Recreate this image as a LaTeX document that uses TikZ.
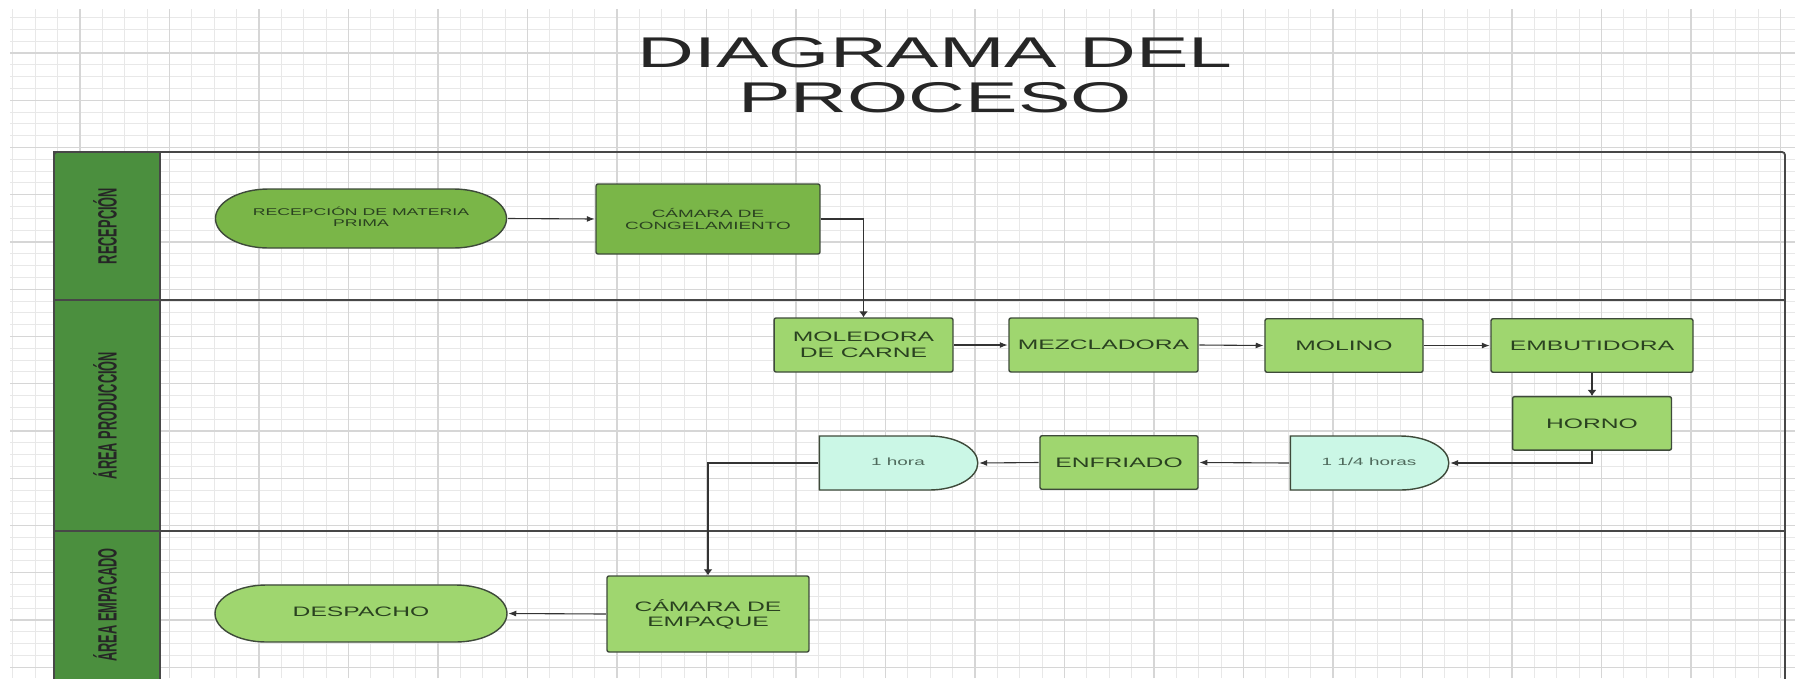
\documentclass[tikz,border=0pt]{standalone}
\usepackage{fontspec}
\setmainfont{Liberation Sans}
\usetikzlibrary{positioning,shapes.misc,arrows.meta}

\definecolor{lanegreen}{HTML}{4B8F3E}
\definecolor{midgreen}{HTML}{7AB648}
\definecolor{lightgreen}{HTML}{9FD66F}
\definecolor{mint}{HTML}{CBF7E6}
\definecolor{edgegray}{HTML}{3E4A3A}
\definecolor{textgreen}{HTML}{2A4220}
\definecolor{delaytext}{HTML}{4F6A5C}

\newcommand{\boxtext}[1]{\makebox[0pt]{\begin{tabular}{@{}c@{}}#1\end{tabular}}}

\begin{document}
\begin{tikzpicture}[
  x=1pt, y=-1pt,
  gridminor/.style={draw=black!9, line width=1pt},
  gridmajor/.style={draw=black!16, line width=1.2pt},
  lane/.style={draw=black!72, line width=1.8pt},
  lanelabel/.style={xscale=1.8, yscale=0.87, rotate=90, font=\fontsize{14.7}{16}\selectfont\bfseries, text=black!85},
  title/.style={xscale=1.83, align=center, font=\fontsize{43}{45}\selectfont, text=black!85},
  stage/.style={draw=edgegray, line width=1.4pt, fill=lightgreen, rounded corners=2pt, xscale=1.8, inner sep=0pt,
    minimum height=53.5pt, align=center, text=textgreen, font=\fontsize{13.7}{16.5}\selectfont},
  term/.style={rounded rectangle, draw=edgegray, line width=1.4pt, xscale=1.8, inner sep=0pt, text=textgreen},
  delay/.style={rounded rectangle, rounded rectangle west arc=none, draw=edgegray, line width=1.4pt, fill=mint,
    xscale=1.8, inner sep=0pt, minimum width=88pt, minimum height=54pt, text=delaytext, font=\fontsize{10.5}{12}\selectfont},
  flow/.style={draw=black!80, line width=1.1pt, -{Latex[length=8pt,width=6pt]}},
  vflow/.style={draw=black!80, line width=1.1pt, -{Latex[length=6pt,width=9pt]}}
]
\useasboundingbox (0,0) rectangle (1795,678);
\clip (0,0) rectangle (1795,678);
\fill[white] (0,0) rectangle (1795,678);

% Background grid
\begin{scope}[shift={(80,53)}]
  \draw[gridminor, xstep=22.375pt, ystep=11.8125pt] (-70,625) grid (1715,-44);
  \draw[gridmajor, xstep=89.5pt, ystep=47.25pt] (-70,625) grid (1715,-44);
\end{scope}

% Swimlanes
\draw[lane, fill=lanegreen] (54,152) rectangle (160,700);
\draw[lane, rounded corners=3pt] (54,152) rectangle (1785,700);
\draw[lane] (54,300) -- (1785,300);
\draw[lane] (54,531) -- (1785,531);

\node[lanelabel] (lrec) at (105,226) {RECEPCIÓN};
\node[lanelabel] (lprod) at (105,415.5) {ÁREA PRODUCCIÓN};
\node[lanelabel] (lemp) at (105,605) {ÁREA EMPACADO};

% Title
\node[title] (titulo) at (935,75) {DIAGRAMA DEL\\PROCESO};

% Recepcion
\node[term, fill=midgreen, minimum width=161.7pt, minimum height=59pt, font=\fontsize{9.8}{11.2}\selectfont] (rec) at (361,218.5) {\boxtext{RECEPCIÓN DE MATERIA\\PRIMA}};
\node[stage, fill=midgreen, minimum width=124.4pt, minimum height=70pt, font=\fontsize{10.5}{12.5}\selectfont] (cong) at (708,219) {CÁMARA DE\\CONGELAMIENTO};

% Produccion
\node[stage, minimum width=99.4pt, minimum height=54pt] (mol) at (863.5,345) {MOLEDORA\\DE CARNE};
\node[stage, minimum width=105pt, minimum height=54pt] (mez) at (1103.5,345) {MEZCLADORA};
\node[stage, minimum width=87.8pt] (moli) at (1344,345.5) {MOLINO};
\node[stage, minimum width=112.2pt] (emb) at (1592,345.5) {EMBUTIDORA};
\node[stage, minimum width=88.3pt, below=23pt of emb] (horno) {HORNO};
\node[delay] (d2) at (1369,463) {\boxtext{1 1/4 horas}};
\node[stage, minimum width=87.8pt] (enf) at (1119,462.5) {ENFRIADO};
\node[delay] (d1) at (898,463) {\boxtext{1 hora}};

% Empacado
\node[stage, minimum width=112.2pt, minimum height=76pt, font=\fontsize{13.7}{15}\selectfont] (emp) at (708,614) {CÁMARA DE\\EMPAQUE};
\node[term, fill=lightgreen, minimum width=162.2pt, minimum height=57pt, font=\fontsize{13.7}{16}\selectfont] (desp) at (361,613.5) {\boxtext{DESPACHO}};

% Flow
\draw[flow] (rec.east) -- (cong.west);
\draw[vflow] (cong.east) -| (mol.north);
\draw[flow] (mol.east) -- (mez.west);
\draw[flow] (mez.east) -- (moli.west);
\draw[flow] (moli.east) -- (emb.west);
\draw[vflow] (emb.south) -- (horno.north);
\draw[flow] (horno.south) |- (d2.east);
\draw[flow] (d2.west) -- (enf.east);
\draw[flow] (enf.west) -- (d1.east);
\draw[vflow] (d1.west) -| (emp.north);
\draw[flow] (emp.west) -- (desp.east);

\end{tikzpicture}
\end{document}
